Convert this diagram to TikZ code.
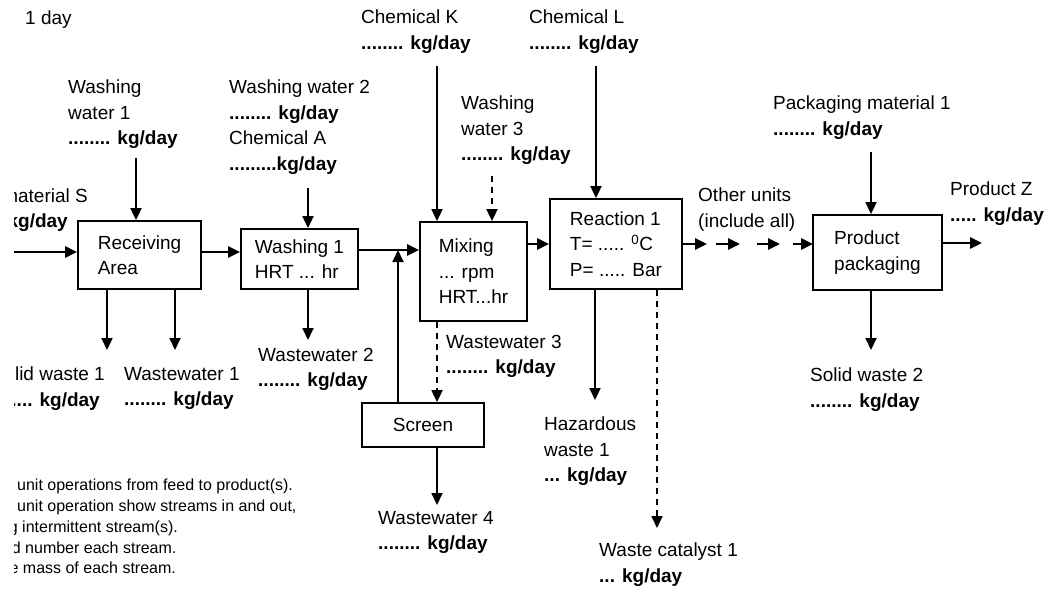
\documentclass[tikz,border=0pt]{standalone}
\usepackage{fontspec}
\setmainfont{Liberation Sans}
\usetikzlibrary{arrows.meta, calc}

\begin{document}
\begin{tikzpicture}[x=1pt, y=-1pt,
	unidad/.style={rectangle, draw=black, line width=1.8pt, align=left, inner sep=2pt, font=\fontsize{19}{25.5}\selectfont},
	rotulo/.style={anchor=north west, align=left, inner sep=0pt, font=\fontsize{19}{25.5}\selectfont},
	nota/.style={anchor=west, inner sep=0pt, font=\fontsize{16}{20.5}\selectfont},
	flujo/.style={-{Triangle[length=12pt,width=11pt]}, line width=1.8pt},
	principal/.style={flujo, line width=2.8pt},
	intermitente/.style={flujo, dash pattern=on 6pt off 5pt}]
				\useasboundingbox (0,0) rectangle (1046,590);
				\clip (14,0) rectangle (1046,590);
				
				%%% UNIDADES
				\node[unidad, minimum width=123pt, minimum height=68pt] (recv) at (139.5,255) {Receiving\\Area};
				\node[unidad, minimum width=117pt, minimum height=60pt] (wash1) at (299.5,259) {Washing 1\\HRT ... hr};
				\node[unidad, minimum width=107pt, minimum height=99pt] (mix) at (473.5,271.5) {Mixing\\... rpm\\HRT...hr};
				\node[unidad, minimum width=132pt, minimum height=90pt] (reac) at (616,244) {Reaction 1\\T= ..... \textsuperscript{0}C\\P= ..... Bar};
				\node[unidad, minimum width=129pt, minimum height=75pt] (pack) at (877.5,252.5) {Product\\packaging};
				\node[unidad, minimum width=122pt, minimum height=44pt] (scr) at (423,425) {Screen};
				
				%%% CORRIENTES
				\node[rotulo] (basis) at (25,11) {1 day};
				\node[rotulo, anchor=north east] (matS) at (88,189) {material S};
				\node[rotulo, anchor=north east] (matSkg) at (68,214) {\textbf{kg/day}};
				\node[rotulo] (ww1) at (68,80) {Washing\\water 1\\\textbf{........ kg/day}};
				\node[rotulo] (ww2) at (229,80) {Washing water 2\\\textbf{........ kg/day}\\Chemical A\\\textbf{.........kg/day}};
				\node[rotulo] (chemK) at (361,10) {Chemical K\\\textbf{........ kg/day}};
				\node[rotulo] (chemL) at (529,10) {Chemical L\\\textbf{........ kg/day}};
				\node[rotulo] (ww3) at (461,96) {Washing\\water 3\\\textbf{........ kg/day}};
				\node[rotulo] (otras) at (698,188) {Other units\\(include all)};
				\node[rotulo] (pm1) at (773,96) {Packaging material 1\\\textbf{........ kg/day}};
				\node[rotulo] (prodZ) at (950,182) {Product Z\\\textbf{..... kg/day}};
				\node[rotulo, anchor=north east] (sw1) at (105,367) {lid waste 1};
				\node[rotulo, anchor=north east] (sw1kg) at (100,393) {\textbf{.... kg/day}};
				\node[rotulo] (wwo1) at (124,367) {Wastewater 1\\\textbf{........ kg/day}};
				\node[rotulo] (wwo2) at (258,348) {Wastewater 2\\\textbf{........ kg/day}};
				\node[rotulo] (wwo3) at (446,335) {Wastewater 3\\\textbf{........ kg/day}};
				\node[rotulo] (wwo4) at (378,511) {Wastewater 4\\\textbf{........ kg/day}};
				\node[rotulo] (haz) at (544,417) {Hazardous\\waste 1\\\textbf{... kg/day}};
				\node[rotulo] (cat) at (599,543) {Waste catalyst 1\\\textbf{... kg/day}};
				\node[rotulo] (sw2) at (810,368) {Solid waste 2\\\textbf{........ kg/day}};
				
				%%% NOTAS
				\node[nota] (n1) at (17,486) {unit operations from feed to product(s).};
				\node[nota] (n2) at (17,507) {unit operation show streams in and out,};
				\node[nota] (n3) at (8.7,528) {g intermittent stream(s).};
				\node[nota] (n4) at (11.7,548) {d number each stream.};
				\node[nota] (n5) at (9.4,568) {e mass of each stream.};
				
				%%% PUNTOS
				\coordinate (feed) at (14,252);
				\coordinate (j) at (398,250);
				\coordinate (outZ) at (982,243);
				\coordinate (in1) at (136,158);
				\coordinate (in2) at (308,188);
				\coordinate (in3) at (437,66);
				\coordinate (in4) at (492,176);
				\coordinate (in5) at (596,66);
				\coordinate (in6) at (871,152);
				\coordinate (o1) at (107,350);
				\coordinate (o2) at (175,350);
				\coordinate (o3) at (308,340);
				\coordinate (o4) at (437,403);
				\coordinate (o5) at (437,505);
				\coordinate (o6) at (595,400);
				\coordinate (o7) at (657,528);
				\coordinate (o8) at (871,350);
				
				%%% CONEXIONES
				\draw[principal] (feed) -- (feed -| recv.west);
				\draw[principal] (recv.east |- feed) -- (feed -| wash1.west);
				\draw[principal] (wash1.east |- j) -- (j -| mix.west);
				\draw[principal] (mix.east |- reac.west) -- (reac.west);
				\foreach \a/\b in {682/707, 716/740, 757/780, 793/813}
					\draw[principal] (\a,244) -- (\b,244);
				\draw[principal] (pack.east |- outZ) -- (outZ);
				\draw[flujo] (scr.north -| j) -- (j);
				
				\draw[flujo] (in1) -- (in1 |- recv.north);
				\draw[flujo] (in2) -- (in2 |- wash1.north);
				\draw[flujo] (in3) -- (in3 |- mix.north);
				\draw[intermitente] (in4) -- (in4 |- mix.north);
				\draw[flujo] (in5) -- (in5 |- reac.north);
				\draw[flujo] (in6) -- (in6 |- pack.north);
				
				\draw[flujo] (o1 |- recv.south) -- (o1);
				\draw[flujo] (o2 |- recv.south) -- (o2);
				\draw[flujo] (o3 |- wash1.south) -- (o3);
				\draw[intermitente] (o4 |- mix.south) -- (o4 |- scr.north);
				\draw[flujo] (o5 |- scr.south) -- (o5);
				\draw[flujo] (o6 |- reac.south) -- (o6);
				\draw[intermitente] (o7 |- reac.south) -- (o7);
				\draw[flujo] (o8 |- pack.south) -- (o8);
			\end{tikzpicture}
\end{document}
